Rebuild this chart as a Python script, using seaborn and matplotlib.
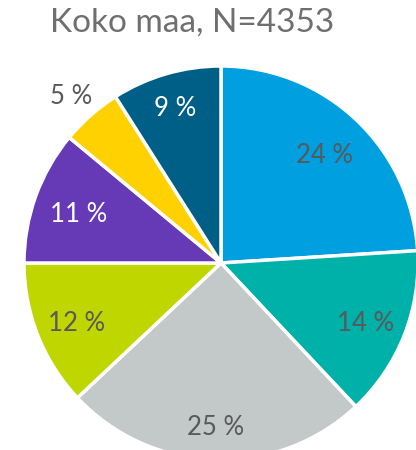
import matplotlib
matplotlib.use("Agg")
import matplotlib.pyplot as plt
import numpy as np
import seaborn as sns

# data
shares = [24, 14, 25, 12, 11, 5, 9]
share_labels = [f"{v} %" for v in shares]
slice_colors = ["#009fdf", "#00b1a9", "#c3c8c8", "#bfd600", "#6639b7", "#ffd100", "#005f87"]
title = "Koko maa, N=4353"

sns.set_theme(style="white")
plt.rcParams["font.family"] = ["Lato", "DejaVu Sans"]

label_colors = ["#595959", "#595959", "#595959", "#595959", "white", "#595959", "white"]
label_dist = [0.77, 0.79, 0.82, 0.79, 0.77, 1.15, 0.83]

fig = plt.figure(figsize=(4.16, 4.5), dpi=100)
ax = fig.add_axes([0, 0, 1, 1])

# pixel-like coordinate system so the pie is cropped like the original
cx, cy, r = 221, 450 - 263, 197
wedges, _ = ax.pie(
    shares, colors=slice_colors, startangle=90, counterclock=False,
    center=(cx, cy), radius=r, frame=True,
    wedgeprops=dict(edgecolor="white", linewidth=2.5),
)
ax.set_xlim(0, 416)
ax.set_ylim(0, 450)
ax.set_aspect("equal")
ax.axis("off")

for w, lab, col, d in zip(wedges, share_labels, label_colors, label_dist):
    ang = np.deg2rad((w.theta1 + w.theta2) / 2)
    ax.text(cx + d * r * np.cos(ang), cy + d * r * np.sin(ang) - 3, lab,
            ha="center", va="center", fontsize=18.5, color=col)

fig.text(192 / 416, 1 - 23 / 450, title, ha="center", va="center",
         fontsize=24, color="#6f6f6f")

fig.savefig("out.png", dpi=100)
plt.close(fig)
